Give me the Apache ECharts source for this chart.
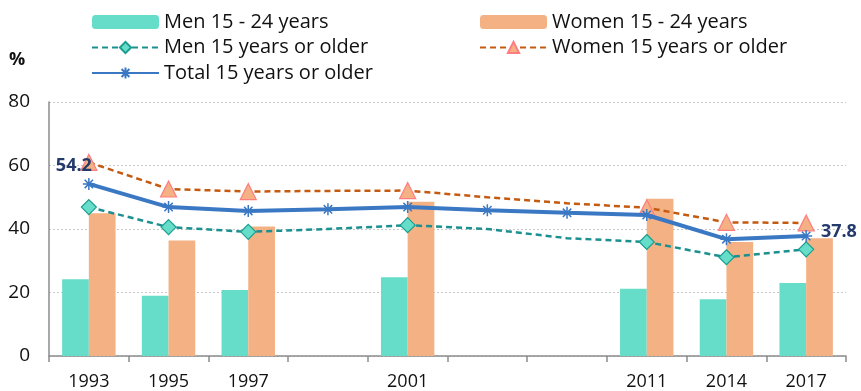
<!DOCTYPE html>
<html>
<head>
<meta charset="utf-8">
<script src="https://cdn.jsdelivr.net/npm/echarts@6/dist/echarts.min.js"></script>
<style>html,body{margin:0;padding:0;background:#fff}#c{width:861px;height:391px}</style>
</head>
<body>
<div id="c"></div>
<script>
const years = ['1993','1995','1997','1999','2001','2004','2007','2011','2014','2017'];
const shownYears = ['1993','1995','1997','2001','2011','2014','2017'];
const yTicks = [0, 20, 40, 60, 80];
const men1524 = [24.2, 19.0, 20.8, null, 24.8, null, null, 21.2, 17.9, 23.0];
const women1524 = [45.0, 36.4, 40.8, null, 48.6, null, null, 49.5, 35.9, 37.1];
const men15plus = [46.9, 40.6, 39.1, 40.0, 41.2, 40.0, 37.1, 35.9, 31.1, 33.6];
const women15plus = [61.0, 52.6, 51.8, 52.0, 52.1, 50.0, 48.1, 46.7, 42.1, 41.9];
const total15plus = [54.2, 46.9, 45.7, 46.2, 46.9, 45.9, 45.1, 44.4, 36.8, 37.8];

const FONT = 'Open Sans';
const asterisk = 'path://M0,5L10,5M5,0L5,10M1.5,1.5L8.5,8.5M8.5,1.5L1.5,8.5';

function markedData(vals) {
  return vals.map((v, i) => shownYears.includes(years[i]) ? v : {value: v, symbol: 'none'});
}

const totalData = total15plus.map((v, i) => {
  if (i === 0) return {value: v, label: {show: true, position: 'top', offset: [-15, 3], formatter: '{c}'}};
  if (i === total15plus.length - 1) return {value: v, label: {show: true, position: 'right', distance: 8, offset: [0, -4], formatter: '{c}'}};
  return v;
});

const chart = echarts.init(document.getElementById('c'));
chart.setOption({
  animation: false,
  textStyle: {fontFamily: FONT},
  grid: {left: 49, right: 15, top: 102, bottom: 35, containLabel: false},
  legend: [
    {
      data: ['Men 15 - 24 years', 'Men 15 years or older', 'Total 15 years or older'],
      orient: 'vertical', left: 86, top: 7, itemWidth: 67, itemHeight: 14, itemGap: 5.5,
      textStyle: {fontSize: 20, color: '#111', fontFamily: FONT}
    },
    {
      data: ['Women 15 - 24 years', 'Women 15 years or older'],
      orient: 'vertical', left: 474, top: 7, itemWidth: 67, itemHeight: 14, itemGap: 5.5,
      textStyle: {fontSize: 20, color: '#111', fontFamily: FONT}
    }
  ],
  graphic: [{type: 'text', left: 9, top: 51, style: {text: '%', font: 'bold 18px ' + FONT, fill: '#111'}}],
  xAxis: {
    type: 'category', data: years, boundaryGap: true,
    axisLine: {lineStyle: {color: '#8c8c8c', width: 1.5}},
    axisTick: {show: true, length: 6, lineStyle: {color: '#8c8c8c', width: 1.5}},
    axisLabel: {fontSize: 18, color: '#111', margin: 17, interval: 0,
      formatter: v => shownYears.includes(v) ? v : ''}
  },
  yAxis: {
    type: 'value', min: yTicks[0], max: yTicks[yTicks.length - 1], interval: 20,
    axisLine: {show: true, lineStyle: {color: '#8c8c8c', width: 1.5}},
    axisTick: {show: false},
    axisLabel: {fontSize: 19, color: '#111', margin: 19},
    splitLine: {lineStyle: {color: '#c8c8c8', type: [2, 2], width: 1}}
  },
  series: [
    {name: 'Men 15 - 24 years', type: 'bar', data: men1524, barGap: '0%', barCategoryGap: '33%',
      itemStyle: {color: '#66DDC8'}},
    {name: 'Women 15 - 24 years', type: 'bar', data: women1524, barGap: '0%', barCategoryGap: '33%',
      itemStyle: {color: '#F4B183'}},
    {name: 'Men 15 years or older', type: 'line', data: markedData(men15plus), connectNulls: true,
      symbol: 'diamond', symbolSize: 15,
      lineStyle: {color: '#1A9090', width: 2.5, type: [6, 4]},
      itemStyle: {color: '#66DDC8', borderColor: '#1A9E90', borderWidth: 1.2}, z: 3},
    {name: 'Women 15 years or older', type: 'line', data: markedData(women15plus),
      symbol: 'triangle', symbolSize: 16,
      lineStyle: {color: '#C55A11', width: 2.5, type: [6, 4]},
      itemStyle: {color: '#F4B183', borderColor: '#FF7C80', borderWidth: 1.2}, z: 3},
    {name: 'Total 15 years or older', type: 'line', data: totalData,
      symbol: asterisk, symbolSize: 12,
      lineStyle: {color: '#3B78C4', width: 4},
      itemStyle: {color: '#3B78C4', borderColor: '#3B78C4', borderWidth: 1.5},
      label: {show: false, fontSize: 18, fontWeight: 'bold', color: '#233A6B', fontFamily: FONT},
      z: 4}
  ]
});
</script>
</body>
</html>
